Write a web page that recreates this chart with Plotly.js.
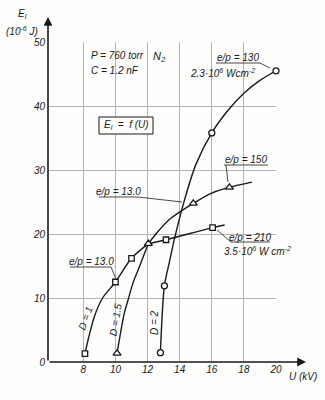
<!DOCTYPE html>
<html>
<head>
<meta charset="utf-8">
<script src="https://cdn.plot.ly/plotly-3.0.1.min.js"></script>
<style>html,body{margin:0;padding:0;background:#fdfdfb;}#chart{width:325px;height:400px;}</style>
</head>
<body>
<div id="chart"></div>
<script>
// ---- data (U in kV, E in 10^-6 J) ----
const uTicks = [8, 10, 12, 14, 16, 18, 20];
const eTicks = [0, 10, 20, 30, 40, 50];

// D = 1 curve
const d1U = [8.1, 8.35, 8.7, 9.2, 10.0, 11.0, 12.05];
const d1E = [1.3, 4.0, 7.2, 10.0, 12.5, 16.2, 18.5];
// D = 1.5 curve
const d15U = [10.1, 10.55, 10.8, 11.1, 11.45, 12.05];
const d15E = [1.35, 7.6, 9.8, 12.4, 14.6, 18.5];
// D = 2 curve (continues as e/p = 130, 2.3e6 W cm^-2)
const d2U = [12.8, 13.05, 13.35, 13.7, 14.3, 15.0, 16.0, 17.0, 18.0, 19.0, 20.0];
const d2E = [1.45, 11.9, 15.5, 19.5, 25.3, 30.8, 35.8, 39.3, 42.0, 44.0, 45.5];
// e/p = 150 curve
const ep150U = [12.05, 12.65, 13.45, 14.85, 16.0, 17.1, 18.5];
const ep150E = [18.5, 20.4, 22.45, 24.8, 26.4, 27.3, 28.1];
// e/p = 210 curve (3.5e6 W cm^-2)
const ep210U = [12.05, 13.15, 16.05, 16.8];
const ep210E = [18.5, 19.1, 21.0, 21.4];

// measured points
const sqU = [8.1, 10.0, 11.0, 13.15, 16.05];
const sqE = [1.3, 12.5, 16.2, 19.1, 21.0];
const triU = [10.1, 12.05, 14.85, 17.1];
const triE = [1.35, 18.5, 24.8, 27.3];
const cirU = [12.8, 13.05, 16.0, 20.0];
const cirE = [1.45, 11.9, 35.8, 45.5];

// ---- layout helpers (pixel -> paper) ----
const L = 48, R = 276, B = 362, T = 42;
const px = p => (p - L) / (R - L);
const py = p => (B - p) / (B - T);
const FONT = 'Liberation Sans, Arial, sans-serif';
const INK = '#1a1a1a';

const lineStyle = {color: INK, width: 1.4, shape: 'spline', smoothing: 0.8};
function curve(x, y) {
  return {x: x, y: y, type: 'scatter', mode: 'lines', line: lineStyle, hoverinfo: 'skip', showlegend: false};
}
function pts(x, y, sym, size) {
  return {x: x, y: y, type: 'scatter', mode: 'markers', showlegend: false, hoverinfo: 'skip', cliponaxis: false,
    marker: {symbol: sym, size: size, color: '#fdfdfb', line: {color: INK, width: 1.3}}};
}

const data = [
  curve(d1U, d1E), curve(d15U, d15E), curve(d2U, d2E), curve(ep150U, ep150E), curve(ep210U, ep210E),
  pts(sqU, sqE, 'square', 5.5), pts(triU, triE, 'triangle-up', 7), pts(cirU, cirE, 'circle', 6)
];

function txt(t, x, y, opt) {
  return Object.assign({text: t, xref: 'paper', yref: 'paper', x: px(x), y: py(y), showarrow: false,
    xanchor: 'center', yanchor: 'middle', font: {family: FONT, size: 10, color: INK}}, opt || {});
}
function seg(x0, y0, x1, y1) {
  return {type: 'line', xref: 'paper', yref: 'paper', x0: px(x0), y0: py(y0), x1: px(x1), y1: py(y1),
    line: {color: INK, width: 0.8}};
}

const annotations = [
  txt('<i>P = 760 torr</i>', 89, 55, {xanchor: 'left'}),
  txt('<i>N<sub>2</sub></i>', 151, 57, {xanchor: 'left', font: {family: FONT, size: 11, color: INK}}),
  txt('<i>C = 1.2 nF</i>', 89, 71, {xanchor: 'left'}),
  txt('<i>E<sub>l</sub>  =  f (U)</i>', 126, 125),
  txt('<i>e/p = 130</i>', 238, 57),
  txt('<i>2.3·10<sup>6</sup> Wcm<sup>-2</sup></i>', 222, 73),
  txt('<i>e/p = 150</i>', 246, 159),
  txt('<i>e/p = 13.0</i>', 118, 191),
  txt('<i>e/p = 210</i>', 250, 237),
  txt('<i>3.5·10<sup>6</sup> W cm<sup>-2</sup></i>', 257, 251),
  txt('<i>e/p = 13.0</i>', 91, 261),
  txt('<i>D = 1</i>', 85, 318, {textangle: -70}),
  txt('<i>D = 1.5</i>', 115, 320, {textangle: -80}),
  txt('<i>D = 2</i>', 154, 323, {textangle: -90}),
  txt('<i>E<sub>l</sub></i>', 22, 14),
  txt('<i>(10<sup>-6</sup> J)</i>', 22, 31),
  txt('<i>U (kV)</i>', 303, 376),
  // axis arrows
  {xref: 'paper', yref: 'paper', x: 0, y: py(17), ax: 0, ay: B - 17, axref: 'pixel', ayref: 'pixel',
   showarrow: true, arrowhead: 2, arrowsize: 1.1, arrowwidth: 1.6, arrowcolor: INK, text: ''},
  {xref: 'paper', yref: 'paper', x: px(306), y: 0, ax: -(306 - L), ay: 0, axref: 'pixel', ayref: 'pixel',
   showarrow: true, arrowhead: 2, arrowsize: 1.1, arrowwidth: 1.6, arrowcolor: INK, text: ''}
];

const shapes = [
  {type: 'rect', xref: 'paper', yref: 'paper', x0: px(99), y0: py(134), x1: px(153), y1: py(117),
   line: {color: INK, width: 1}, fillcolor: '#fdfdfb'},
  seg(216, 63, 260, 63), seg(260, 63, 270, 68),
  seg(224, 165, 268, 165), seg(226, 165, 228, 182),
  seg(99, 197, 138, 197), seg(138, 197, 182, 202),
  seg(231, 242, 270, 242), seg(231, 242, 217, 230),
  seg(70, 267, 111, 267), seg(111, 267, 116, 279)
];

const axisFont = {family: FONT, size: 10, color: INK, style: 'italic'};
const layout = {
  width: 325, height: 400,
  margin: {l: L, r: 325 - R, t: T, b: 400 - B, pad: 0},
  paper_bgcolor: '#fdfdfb', plot_bgcolor: '#fdfdfb',
  showlegend: false,
  xaxis: {range: [5.8, 20], tickvals: uTicks, ticktext: uTicks.map(String), showgrid: true,
    gridcolor: '#b4b4b4', gridwidth: 1, zeroline: false, showline: false, ticks: '', tickfont: axisFont,
    fixedrange: true},
  yaxis: {range: [0, 50], tickvals: eTicks, ticktext: eTicks.map(String), showgrid: true,
    gridcolor: '#b4b4b4', gridwidth: 1, zeroline: false, showline: false, ticks: '', tickfont: axisFont,
    ticklabelstandoff: 2, fixedrange: true},
  annotations: annotations,
  shapes: shapes
};

Plotly.newPlot('chart', data, layout, {staticPlot: true, displayModeBar: false});
</script>
</body>
</html>
